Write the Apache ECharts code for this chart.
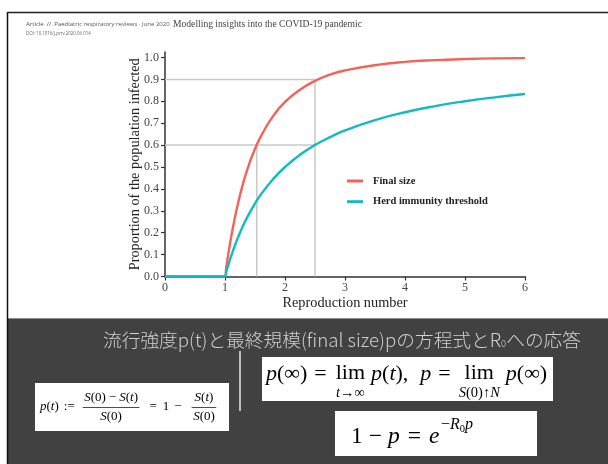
<!DOCTYPE html>
<html>
<head>
<meta charset="utf-8">
<script src="https://cdn.jsdelivr.net/npm/echarts@6/dist/echarts.min.js"></script>
<style>html,body{margin:0;padding:0;background:#fff}#c{width:608px;height:464px}</style>
</head>
<body>
<div id="c"></div>
<script>
// Data
const rFinal = [0, 1, 1.02, 1.05, 1.1, 1.2, 1.3, 1.4, 1.5, 1.6, 1.8, 2.0, 2.25, 2.5, 2.75, 3.0, 3.5, 4.0, 4.5, 5.0, 5.5, 6.0];
const pFinal = [0, 0, 0.039, 0.094, 0.176, 0.314, 0.424, 0.511, 0.583, 0.641, 0.732, 0.797, 0.853, 0.893, 0.922, 0.941, 0.965, 0.980, 0.988, 0.993, 0.996, 0.997];
const rHerd = [0, 1, 1.02, 1.05, 1.1, 1.2, 1.3, 1.4, 1.5, 1.6, 1.8, 2.0, 2.25, 2.5, 2.75, 3.0, 3.5, 4.0, 4.5, 5.0, 5.5, 6.0];
const pHerd = [0, 0, 0.020, 0.048, 0.091, 0.167, 0.231, 0.286, 0.333, 0.375, 0.444, 0.5, 0.556, 0.6, 0.636, 0.667, 0.714, 0.75, 0.778, 0.8, 0.818, 0.833];
const guideR = [1.53, 2.5];      // vertical guide positions
const guideP = [0.6, 0.9];       // horizontal guide levels
const xTicks = [0, 1, 2, 3, 4, 5, 6];
const yTicks = [0, 0.1, 0.2, 0.3, 0.4, 0.5, 0.6, 0.7, 0.8, 0.9, 1.0];
const seriesNames = ['Final size', 'Herd immunity threshold'];

const zip = (a, b) => a.map((v, i) => [v, b[i]]);
const RED = '#F4625A', TEAL = '#12BAC2', GUIDE = '#c8c8c8';
const SERIF = '"Liberation Serif", "DejaVu Serif", serif';

// ---- small text layout helper for the formula boxes ----
const mctx = document.createElement('canvas').getContext('2d');
function tw(t, size, ital) {
  mctx.font = (ital ? 'italic ' : '') + size + 'px "Liberation Serif"';
  return mctx.measureText(t).width;
}
// a segment is [text, italic, size, dy] or a number (horizontal gap)
function seqWidth(segs, size) {
  return segs.reduce((s, g) => s + (typeof g === 'number' ? g : tw(g[0], g[2] || size, g[1])), 0);
}
function seq(x, y, segs, size, out) {
  for (const g of segs) {
    if (typeof g === 'number') { x += g; continue; }
    const sz = g[2] || size;
    out.push({type: 'text', x: x, y: y + (g[3] || 0), z: 20,
      style: {text: g[0], fontFamily: SERIF, fontSize: sz, fontStyle: g[1] ? 'italic' : 'normal', fill: '#000', verticalAlign: 'middle'}});
    x += tw(g[0], sz, g[1]);
  }
  return x;
}
function frac(x, y, num, den, size, out) {
  const wn = seqWidth(num, size), wd = seqWidth(den, size);
  const wbar = Math.max(wn, wd) + 3;
  seq(x + (wbar - wn) / 2, y - size * 0.72, num, size, out);
  seq(x + (wbar - wd) / 2, y + size * 0.74, den, size, out);
  out.push({type: 'line', z: 20, shape: {x1: x, y1: y + 0.5, x2: x + wbar, y2: y + 0.5}, style: {stroke: '#000', lineWidth: 0.7}});
  return x + wbar;
}
function limBlock(x, y, sub, size, subSize, out) {
  const wl = tw('lim', size, false), ws = seqWidth(sub, subSize);
  const wb = Math.max(wl, ws);
  seq(x + (wb - wl) / 2, y - 1, [['lim', 0]], size, out);
  seq(x + (wb - ws) / 2, y + size * 0.85, sub, subSize, out);
  return x + wb;
}

const formula = [];
// box 1: p(t) := (S(0) - S(t)) / S(0) = 1 - S(t)/S(0)
(function () {
  const s = 13, y = 407;
  let x = 40;
  x = seq(x, y, [['p', 1], ['(', 0], ['t', 1], [')', 0], 5, [':=', 0], 8], s, formula);
  x = frac(x, y, [['S', 1], ['(0)', 0], 3, ['−', 0], 3, ['S', 1], ['(', 0], ['t', 1], [')', 0]], [['S', 1], ['(0)', 0]], s, formula);
  x = seq(x, y, [10, ['=', 0], 6, ['1', 0], 5, ['−', 0], 10], s, formula);
  x = frac(x, y, [['S', 1], ['(', 0], ['t', 1], [')', 0]], [['S', 1], ['(0)', 0]], s, formula);
})();
// box 2: p(inf) = lim p(t), p = lim p(inf)
(function () {
  const s = 22, ss = 14.5, y = 374;
  let x = 266;
  x = seq(x, y, [['p', 1], ['(∞)', 0], 7, ['=', 0], 9], s, formula);
  x = limBlock(x, y, [['t', 1], ['→∞', 0]], s, ss, formula);
  x = seq(x, y, [6, ['p', 1], ['(', 0], ['t', 1], [')', 0], [',', 0], 12, ['p', 1], 7, ['=', 0], 8], s, formula);
  x = limBlock(x, y, [['S', 1], ['(0)↑', 0], ['N', 1]], s, ss, formula);
  x = seq(x, y, [6, ['p', 1], ['(∞)', 0]], s, formula);
})();
// box 3: 1 - p = e^{-R0 p}
(function () {
  const s = 23.5, y = 437;
  let x = 351;
  x = seq(x, y, [['1', 0], 6, ['−', 0], 6, ['p', 1], 8, ['=', 0], 8, ['e', 1]], s, formula);
  x += 1.5;
  x = seq(x, y, [['−', 0, 16, -12], ['R', 1, 16, -12], ['0', 0, 10.5, -7.5], ['p', 1, 16, -12]], s, formula);
})();

const chart = echarts.init(document.getElementById('c'), null, {renderer: 'canvas'});

const graphics = [
  // frame
  {type: 'line', shape: {x1: 7.5, y1: 12.5, x2: 608, y2: 12.5}, style: {stroke: '#222', lineWidth: 1.5}},
  // dark panel
  {type: 'rect', shape: {x: 8, y: 318, width: 600, height: 146}, style: {fill: '#414141'}},
  {type: 'line', shape: {x1: 8, y1: 318.5, x2: 608, y2: 318.5}, style: {stroke: '#8a8a8a', lineWidth: 1}},
  {type: 'line', shape: {x1: 7.5, y1: 12, x2: 7.5, y2: 464}, style: {stroke: '#111', lineWidth: 1.5}},
  // header
  {type: 'text', x: 26, y: 24, style: {text: 'Article  //  Paediatric respiratory reviews · June 2020', fontFamily: '"Open Sans", sans-serif', fontSize: 6, fill: '#555', verticalAlign: 'middle'}},
  {type: 'text', x: 173, y: 24, style: {text: 'Modelling insights into the COVID-19 pandemic', fontFamily: SERIF, fontSize: 9.6, fill: '#444', verticalAlign: 'middle'}},
  {type: 'text', x: 26, y: 33.5, style: {text: 'DOI: 10.1016/j.prrv.2020.06.014', fontFamily: '"Open Sans", sans-serif', fontSize: 4.4, fill: '#666', verticalAlign: 'middle'}},
  // panel title
  {type: 'text', x: 342, y: 340, style: {text: '流行強度p(t)と最終規模(final size)pの方程式とR{z|0}への応答', fontFamily: '"Noto Sans CJK JP", sans-serif', fontWeight: 300, fontSize: 18.7, fill: '#cfcfcf', align: 'center', verticalAlign: 'middle',
    rich: {z: {fontFamily: '"Noto Sans CJK JP", sans-serif', fontWeight: 300, fontSize: 9.5, fill: '#cfcfcf', padding: [6, 0, 0, 0]}}}},
  // separator
  {type: 'line', shape: {x1: 240, y1: 351, x2: 240, y2: 411}, style: {stroke: '#bdbdbd', lineWidth: 2}},
  // boxes
  {type: 'rect', z: 10, shape: {x: 35, y: 383, width: 194, height: 48}, style: {fill: '#fff'}},
  {type: 'rect', z: 10, shape: {x: 262, y: 357, width: 291, height: 44}, style: {fill: '#fff'}},
  {type: 'rect', z: 10, shape: {x: 335, y: 411, width: 202, height: 45}, style: {fill: '#fff'}}
].concat(formula);

chart.setOption({
  animation: false,
  backgroundColor: '#fff',
  textStyle: {fontFamily: SERIF},
  grid: {left: 165, top: 52, width: 360, height: 224.5, containLabel: false},
  legend: {
    data: seriesNames,
    orient: 'vertical', left: 347, top: 174, padding: 0, itemWidth: 16, itemHeight: 3, itemGap: 6.7,
    icon: 'rect',
    textStyle: {fontFamily: SERIF, fontWeight: 'bold', fontSize: 10.5, color: '#222', lineHeight: 14, padding: [0, 0, 0, 5]}
  },
  xAxis: {
    type: 'value', min: 0, max: 6, interval: 1,
    name: 'Reproduction number', nameLocation: 'middle', nameGap: 20, nameMoveOverlap: false,
    nameTextStyle: {fontFamily: SERIF, fontSize: 14.3, color: '#222'},
    axisLine: {onZero: false, lineStyle: {color: '#333', width: 1.5}},
    axisTick: {show: true, length: 4, customValues: xTicks, lineStyle: {color: '#333', width: 1.2}},
    axisLabel: {fontFamily: SERIF, fontSize: 12, color: '#444', margin: 5, customValues: xTicks},
    splitLine: {show: false}
  },
  yAxis: {
    type: 'value', min: 0, max: 1.025,
    name: 'Proportion of the population infected', nameLocation: 'middle', nameGap: 23, nameRotate: 90, nameMoveOverlap: false,
    nameTextStyle: {fontFamily: SERIF, fontSize: 14.3, color: '#222'},
    axisLine: {show: true, onZero: false, lineStyle: {color: '#333', width: 1.5}},
    axisTick: {show: true, length: 4, customValues: yTicks, lineStyle: {color: '#333', width: 1.2}},
    axisLabel: {fontFamily: SERIF, fontSize: 12, color: '#444', margin: 6, customValues: yTicks,
      formatter: v => v.toFixed(1)},
    splitLine: {show: false}
  },
  series: [
    {type: 'line', name: 'guideH1', data: [[0, guideP[1]], [guideR[1], guideP[1]]], symbol: 'none', silent: true,
      lineStyle: {color: GUIDE, width: 1.5}, z: 1},
    {type: 'line', name: 'guideH2', data: [[0, guideP[0]], [guideR[1], guideP[0]]], symbol: 'none', silent: true,
      lineStyle: {color: GUIDE, width: 1.5}, z: 1},
    {type: 'line', name: 'guideV1', data: [[guideR[0], 0], [guideR[0], guideP[0]]], symbol: 'none', silent: true,
      lineStyle: {color: GUIDE, width: 1.5}, z: 1},
    {type: 'line', name: 'guideV2', data: [[guideR[1], 0], [guideR[1], guideP[1]]], symbol: 'none', silent: true,
      lineStyle: {color: GUIDE, width: 1.5}, z: 1},
    {type: 'line', name: seriesNames[0], data: zip(rFinal, pFinal), symbol: 'none', smooth: 0.5,
      itemStyle: {color: RED}, lineStyle: {color: RED, width: 2.4}, z: 3},
    {type: 'line', name: seriesNames[1], data: zip(rHerd, pHerd), symbol: 'none', smooth: 0.5,
      itemStyle: {color: TEAL}, lineStyle: {color: TEAL, width: 2.4}, z: 4}
  ],
  graphic: graphics
});
</script>
</body>
</html>
